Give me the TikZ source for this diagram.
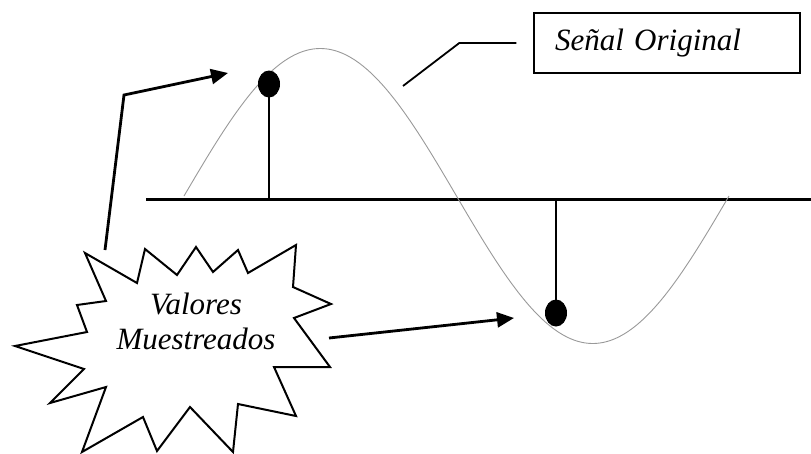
\documentclass[tikz,border=0pt]{standalone}
\usepackage{fontspec}
\setmainfont{Liberation Serif}
\newfontfamily\lblfont{Liberation Serif Italic}
\usepackage{tikz}
\usepackage{xcolor}
\usetikzlibrary{shapes.geometric, arrows.meta, positioning, calc}

\definecolor{wavegray}{gray}{0.6}
\tikzset{
  axisline/.style={line width=3pt},
  stem/.style={line width=2.2pt},
  sample/.style={ellipse, fill=black, minimum width=22pt, minimum height=27pt, inner sep=0pt},
  wave/.style={wavegray, line width=0.9pt},
  ptr/.style={line width=2.8pt, -{Triangle[length=17pt,width=15pt]}},
  callout/.style={line width=1.8pt},
  sigbox/.style={draw, line width=1.4pt, minimum height=60pt, text width=224pt,
    inner xsep=21pt, align=left, font=\lblfont\fontsize{31}{35}\selectfont},
  burst/.style={draw, line width=2pt, fill=white, line join=miter},
  burstlbl/.style={align=center, font=\lblfont\fontsize{31}{35}\selectfont}
}

\begin{document}
\begin{tikzpicture}[x=1pt, y=-1pt]
\useasboundingbox (0,0) rectangle (811,453);

% time axis
\coordinate (ax0) at (146,199);
\coordinate (ax1) at (811,199);
\draw[axisline] (ax0) -- (ax1);

% original signal (one period)
\draw[wave, domain=184:729, samples=120, smooth]
  plot (\x, {196 - 147.5*sin((\x-184)/545*360)});

% sampled values
\foreach \n/\x/\y in {1/269/84, 2/556/313} {
  \draw[stem] (\x,\y) -- (\x,199);
  \node[sample] (s\n) at (\x,\y) {};
}

% label of the signal
\node[sigbox] (sig) at (667,43) {Señal Original};
\coordinate (sigtip) at (403,86);
\draw[callout] ([xshift=-17pt]sig.west) -- ++(-57,0) -- (sigtip);

% explosion with the label of the samples
\draw[burst] (85,253) -- (137,283) -- (145,249) -- (177,275) -- (196,247)
  -- (213,272) -- (238,250) -- (248,273) -- (296,245) -- (293,287)
  -- (331,304) -- (294,318) -- (330,367) -- (274,367) -- (296,416)
  -- (238,404) -- (233,452) -- (190,407) -- (157,451) -- (143,417)
  -- (82,452) -- (106,387) -- (50,403) -- (84,369) -- (15,346)
  -- (87,332) -- (77,305) -- (106,301) -- cycle;
\node[burstlbl] (vals) at (196,321) {Valores\\Muestreados};

% arrows to the samples
\coordinate (a1) at (105,250);
\coordinate (a1k) at (124,95);
\coordinate (a1t) at (228,73);
\draw[ptr] (a1) -- (a1k) -- (a1t);
\coordinate (a2) at (329,338);
\coordinate (a2t) at (514,318);
\draw[ptr] (a2) -- (a2t);
\end{tikzpicture}
\end{document}
